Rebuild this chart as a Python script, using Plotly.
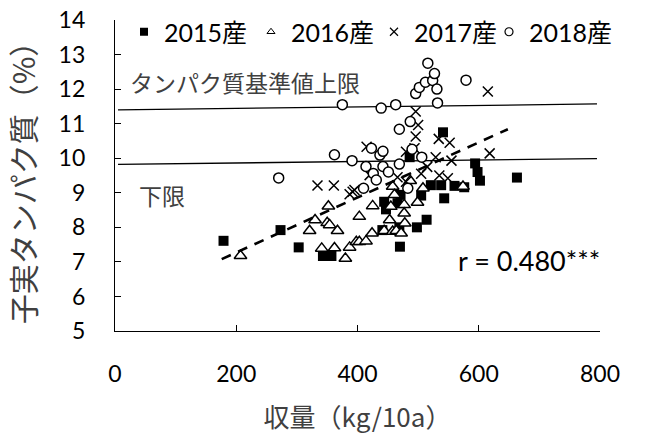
import plotly.graph_objects as go

# ---- data ----
x2015 = [179, 273, 303, 343, 357, 441, 444, 447, 466, 469, 470, 471, 486, 498, 505, 514, 521, 538, 541, 543, 560, 576, 594, 598, 602, 663]
y2015 = [7.61, 7.92, 7.42, 7.17, 7.17, 7.92, 8.74, 8.52, 8.70, 8.00, 7.44, 8.94, 10.03, 8.00, 8.92, 8.22, 9.22, 9.22, 10.75, 8.84, 9.20, 9.16, 9.85, 9.60, 9.35, 9.44]

x2016 = [207, 321, 330, 341, 350, 352, 354, 362, 367, 380, 387, 398, 403, 403, 414, 424, 425, 444, 453, 455, 458, 458, 461, 464, 472, 477, 477, 478, 487, 499, 508, 574]
y2016 = [7.18, 7.90, 8.21, 7.39, 8.13, 8.61, 8.07, 7.40, 7.90, 7.10, 7.42, 7.58, 8.31, 7.58, 7.60, 7.83, 8.62, 7.90, 8.21, 8.60, 9.18, 7.88, 8.94, 7.90, 7.83, 8.65, 8.41, 8.12, 9.35, 8.72, 9.13, 9.18]

x2017 = [334, 361, 387, 392, 395, 415, 420, 466, 480, 480, 494, 496, 496, 500, 505, 515, 529, 534, 535, 549, 552, 555, 615, 618]
y2017 = [9.21, 9.21, 8.96, 9.03, 9.08, 10.33, 9.51, 9.45, 9.32, 10.19, 10.29, 11.35, 10.63, 10.96, 9.55, 9.75, 10.03, 10.56, 9.50, 9.42, 10.45, 9.93, 11.93, 10.14]

x2018 = [270, 362, 375, 391, 410, 414, 423, 426, 431, 437, 439, 442, 442, 451, 463, 469, 469, 483, 487, 490, 496, 502, 506, 512, 516, 524, 527, 531, 532, 579]
y2018 = [9.43, 10.10, 11.55, 9.93, 9.13, 9.76, 10.29, 9.56, 9.37, 10.09, 11.45, 10.20, 9.76, 9.60, 11.55, 10.84, 9.83, 9.13, 11.06, 10.26, 11.87, 12.05, 10.03, 12.20, 12.75, 12.25, 12.45, 12.00, 11.60, 12.26]

series_names = ["2015産", "2016産", "2017産", "2018産"]

# reference lines
limit_x = [5, 795]
upper_y = [11.40, 11.57]
lower_y = [9.82, 9.99]
trend_x = [176, 648]
trend_y = [7.08, 10.84]

x_ticks = [0, 200, 400, 600, 800]
y_ticks = [5, 6, 7, 8, 9, 10, 11, 12, 13, 14]

LAT = "Lato, 'Noto Sans CJK JP', sans-serif"
CJK = "'Noto Sans CJK JP', sans-serif"
TXT = "#404040"
W, H = 661, 434

fig = go.Figure()

# limit lines
for ys in (upper_y, lower_y):
    fig.add_trace(go.Scatter(x=limit_x, y=ys, mode="lines",
                             line=dict(color="black", width=1.3),
                             showlegend=False, hoverinfo="skip"))

styles = [
    dict(symbol="square", size=10, color="black", line=dict(color="black", width=0)),
    dict(symbol="triangle-up", size=11, color="white", line=dict(color="black", width=1.5)),
    dict(symbol="x-thin", size=10, color="black", line=dict(color="black", width=1.5)),
    dict(symbol="circle", size=10, color="white", line=dict(color="black", width=1.5)),
]
leg_styles = [
    dict(symbol="square", size=8, color="black", line=dict(color="black", width=0)),
    dict(symbol="triangle-up", size=7, color="white", line=dict(color="black", width=1)),
    dict(symbol="x-thin", size=8, color="black", line=dict(color="black", width=1.2)),
    dict(symbol="circle", size=8, color="white", line=dict(color="black", width=1.2)),
]
data = [(x2015, y2015), (x2016, y2016), (x2017, y2017), (x2018, y2018)]

for (xs, ys), st in zip(data, styles):
    fig.add_trace(go.Scatter(x=xs, y=ys, mode="markers", marker=st,
                             showlegend=False))

# trend line
fig.add_trace(go.Scatter(x=trend_x, y=trend_y, mode="lines",
                         line=dict(color="black", width=2.6, dash="10px,8px"),
                         showlegend=False, hoverinfo="skip"))

# legend-only entries, one legend per entry for exact placement
legend_ids = ["legend", "legend2", "legend3", "legend4"]
legend_px = [144, 271, 394, 509]  # symbol centre in pixels
for name, st, lid in zip(series_names, leg_styles, legend_ids):
    fig.add_trace(go.Scatter(x=[None], y=[None], mode="markers", marker=st,
                             name=name, showlegend=True, legend=lid))

legends = {}
for lid, px in zip(legend_ids, legend_px):
    legends[lid] = dict(orientation="h", xref="container", yref="container",
                        x=(px - 20) / W, y=1 - 32 / H, xanchor="left", yanchor="middle",
                        bgcolor="rgba(0,0,0,0)", borderwidth=0,
                        font=dict(family=LAT, size=25, color="black"))

fig.add_annotation(x=21, y=12.2, xref="x", yref="y", text="タンパク質基準値上限",
                   showarrow=False, xanchor="left", yanchor="middle",
                   font=dict(family=CJK, size=23, color=TXT))
fig.add_annotation(x=37, y=8.94, xref="x", yref="y", text="下限",
                   showarrow=False, xanchor="left", yanchor="middle",
                   font=dict(family=CJK, size=23, color=TXT))
fig.add_annotation(x=563, y=7.03, xref="x", yref="y", text="r = 0.480***",
                   showarrow=False, xanchor="left", yanchor="middle",
                   font=dict(family=LAT, size=27, color="black"))

fig.update_layout(
    width=W, height=H,
    margin=dict(l=115, r=61, t=20, b=103, autoexpand=False),
    paper_bgcolor="white", plot_bgcolor="white",
    font=dict(family=LAT, size=23, color="black"),
    xaxis=dict(range=[0, 800], tickvals=x_ticks, ticks="inside", ticklen=6,
               tickcolor="black", tickwidth=1.3, showline=True, linecolor="black",
               linewidth=1.3, showgrid=False, zeroline=False, ticklabelstandoff=22,
               title=dict(text="収量（kg/10a）", standoff=28,
                          font=dict(family=CJK, size=26, color=TXT))),
    yaxis=dict(range=[5, 14], tickvals=y_ticks, ticks="inside", ticklen=6,
               tickcolor="black", tickwidth=1.3, showline=True, linecolor="black",
               linewidth=1.3, showgrid=False, zeroline=False, ticklabelstandoff=24,
               title=dict(text="子実タンパク質（%）", standoff=14,
                          font=dict(family=CJK, size=30, color=TXT))),
    **legends,
)

fig.write_html("out.html")
